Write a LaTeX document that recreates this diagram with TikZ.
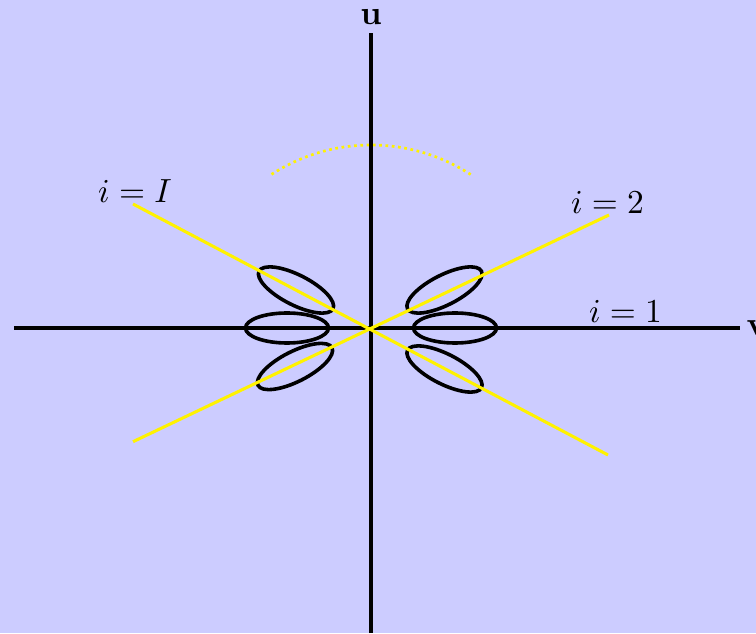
\documentclass[tikz,border=0pt]{standalone}
\definecolor{bgcol}{RGB}{204,204,255}
\begin{document}
\begin{tikzpicture}[x=0.2778pt,y=0.2778pt,
  axis/.style={black,line width=0.85pt},
  lobe/.style={black,line width=1pt},
  ray/.style={yellow,line width=0.85pt},
  arcdots/.style={yellow,line width=0.75pt,densely dotted},
  lbl/.style={inner sep=0pt,scale=0.93}]
\fill[bgcol] (0,0) rectangle (756,633);
\useasboundingbox (0,0) rectangle (756,633);
\coordinate (O) at (371,305);
% dotted arc
\draw[arcdots] (O) ++(57:183) arc[start angle=57,end angle=123,radius=183];
% axes
\coordinate (xl) at (14,305);
\coordinate (xr) at (740,305);
\coordinate (yt) at (371,600);
\coordinate (yb) at (371,0);
\draw[axis] (xl) -- (xr);
\draw[axis] (yb) -- (yt);
\node[lbl,anchor=west] (v) at (746,305) {$\mathbf{v}$};
\node[lbl] (u) at (371,616) {$\mathbf{u}$};
% lobes
\draw[lobe] (455,305) ellipse[x radius=41.5,y radius=15];
\draw[lobe] (287,305) ellipse[x radius=41.5,y radius=15];
\draw[lobe,rotate around={27:(444.5,343)}] (444.5,343) ellipse[x radius=41.5,y radius=15];
\draw[lobe,rotate around={-27:(296,343)}] (296,343) ellipse[x radius=41.5,y radius=15];
\draw[lobe,rotate around={27:(295,266.5)}] (295,266.5) ellipse[x radius=41.5,y radius=15];
\draw[lobe,rotate around={-27:(444.5,264)}] (444.5,264) ellipse[x radius=41.5,y radius=15];
% rays
\coordinate (a1) at (133,429);
\coordinate (a2) at (608,178);
\coordinate (b1) at (133,191.3);
\coordinate (b2) at (609,418);
\draw[ray] (a1) -- (a2);
\draw[ray] (b1) -- (b2);
% labels
\node[lbl] (lI) at (135,442) {$i=I$};
\node[lbl] (l2) at (607.5,431) {$i=2$};
\node[lbl] (l1) at (625.5,322) {$i=1$};
\end{tikzpicture}
\end{document}
